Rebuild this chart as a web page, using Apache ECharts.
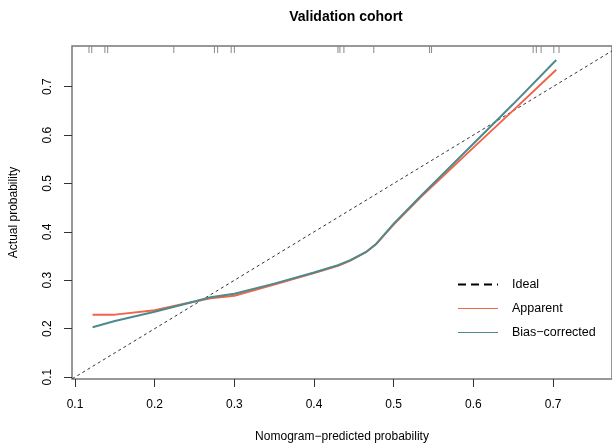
<!DOCTYPE html>
<html>
<head>
<meta charset="utf-8">
<script src="https://cdn.jsdelivr.net/npm/echarts@6/dist/echarts.min.js"></script>
<style>
  html, body { margin: 0; padding: 0; background: #fff; }
  #chart { width: 612px; height: 448px; }
</style>
</head>
<body>
<div id="chart"></div>
<script>
// predicted probability grid for the calibration curves
const predicted = [0.122, 0.15, 0.2, 0.25, 0.27, 0.3, 0.35, 0.4, 0.43, 0.445, 0.465, 0.478, 0.49, 0.5, 0.534, 0.6, 0.65, 0.704]
const apparent = [0.229, 0.229, 0.238, 0.256, 0.263, 0.268, 0.291, 0.315, 0.33, 0.34, 0.358, 0.375, 0.397, 0.415, 0.472, 0.574, 0.651, 0.735]
const biasCorrected = [0.203, 0.216, 0.235, 0.256, 0.265, 0.272, 0.293, 0.316, 0.331, 0.341, 0.358, 0.375, 0.398, 0.417, 0.474, 0.582, 0.664, 0.755]
// rug of observed predictions along the top
const rugX = [0.1175, 0.121, 0.1375, 0.141, 0.224, 0.275, 0.279, 0.296, 0.3, 0.43, 0.4325, 0.4375, 0.475, 0.545, 0.5475, 0.675, 0.679, 0.685, 0.701, 0.7075]
const ticks = [0.1, 0.2, 0.3, 0.4, 0.5, 0.6, 0.7]
const ideal = [[0.09, 0.09], [0.8, 0.8]]

const xMin = 0.0962, xMax = 0.774
const yMin = 0.096, yMax = 0.784
const font = 'Liberation Sans, Arial, sans-serif'
const red = '#F0654A'
const teal = '#4D8A8D'

const chart = echarts.init(document.getElementById('chart'))
const option = {
  animation: false,
  title: {
    text: 'Validation cohort',
    left: 341,
    top: 5,
    textAlign: 'center',
    textStyle: { fontFamily: font, fontSize: 14, fontWeight: 'bold', color: '#000' }
  },
  legend: {
    orient: 'vertical',
    left: 452,
    top: 273,
    itemWidth: 40,
    itemHeight: 14,
    itemGap: 11,
    textStyle: { fontFamily: font, fontSize: 12.5, color: '#000', padding: [0, 0, 0, 9] },
    data: [
      { name: 'Ideal', itemStyle: { opacity: 0 }, lineStyle: { color: '#000', width: 2, type: [8, 5] } },
      { name: 'Apparent', itemStyle: { opacity: 0 }, lineStyle: { width: 1 } },
      { name: 'Bias\u2212corrected', itemStyle: { opacity: 0 }, lineStyle: { width: 1 } }
    ]
  },
  grid: {
    left: 71, right: -1, top: 46, bottom: 67,
    show: true, borderColor: '#777', borderWidth: 1.5
  },
  xAxis: {
    type: 'value', min: xMin, max: xMax,
    name: 'Nomogram\u2212predicted probability',
    nameLocation: 'middle', nameGap: 52,
    nameTextStyle: { fontFamily: font, fontSize: 12, color: '#000' },
    axisLine: { show: false },
    splitLine: { show: false },
    axisTick: { show: true, inside: false, length: 8, customValues: ticks, lineStyle: { color: '#333' } },
    axisLabel: { customValues: ticks, margin: 20, fontFamily: font, fontSize: 12, color: '#000' }
  },
  yAxis: {
    type: 'value', min: yMin, max: yMax,
    name: 'Actual probability',
    nameLocation: 'middle', nameGap: 52,
    nameTextStyle: { fontFamily: font, fontSize: 12, color: '#000' },
    axisLine: { show: false },
    splitLine: { show: false },
    axisTick: { show: true, inside: false, length: 8, customValues: ticks, lineStyle: { color: '#333' } },
    axisLabel: { customValues: ticks, rotate: 90, margin: 18, fontFamily: font, fontSize: 12, color: '#000' }
  },
  series: [
    {
      name: 'Ideal', type: 'line', data: ideal, symbol: 'none', clip: true,
      lineStyle: { color: '#333', width: 1, type: [3, 3] }, itemStyle: { color: '#000' }
    },
    {
      name: 'Apparent', type: 'line', data: predicted.map((x, i) => [x, apparent[i]]),
      symbol: 'none',
      lineStyle: { color: red, width: 2 }, itemStyle: { color: red }
    },
    {
      name: 'Bias\u2212corrected', type: 'line', data: predicted.map((x, i) => [x, biasCorrected[i]]),
      symbol: 'none',
      lineStyle: { color: teal, width: 2 }, itemStyle: { color: teal }
    },
    {
      name: 'rug', type: 'custom', data: rugX.map(x => [x]), silent: true,
      renderItem: function (params, api) {
        const p = api.coord([api.value(0), yMax])
        return {
          type: 'line',
          shape: { x1: p[0], y1: p[1], x2: p[0], y2: p[1] + 7 },
          style: { stroke: '#888', lineWidth: 1 }
        }
      }
    }
  ]
}
chart.setOption(option)
</script>
</body>
</html>
